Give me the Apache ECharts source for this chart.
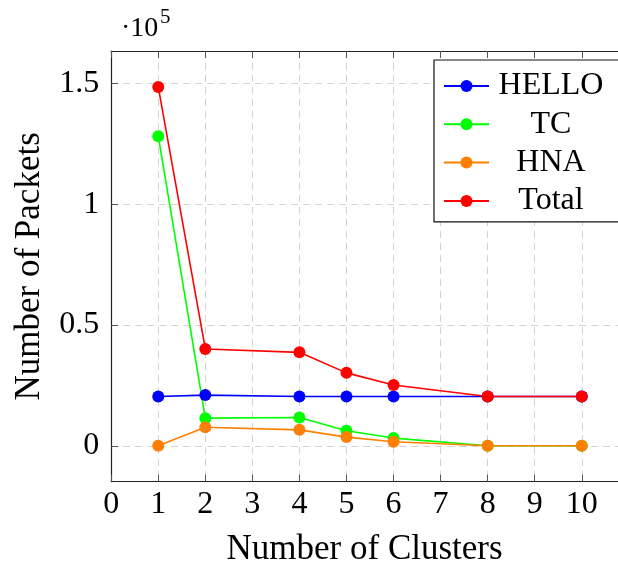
<!DOCTYPE html>
<html>
<head>
<meta charset="utf-8">
<script src="https://cdn.jsdelivr.net/npm/echarts@6/dist/echarts.min.js"></script>
<style>
  html, body { margin: 0; padding: 0; background: #fff; }
  #chart { width: 618px; height: 565px; }
</style>
</head>
<body>
<div id="chart"></div>
<script>
// Packet counts per message type versus number of clusters
const clusters = [1, 2, 4, 5, 6, 8, 10];
const helloPackets = [20400, 21000, 20400, 20400, 20400, 20400, 20400];
const tcPackets = [128200, 11450, 11700, 6200, 3200, 0, 0];
const hnaPackets = [0, 7700, 6600, 3600, 1700, 0, 0];
const totalPackets = [148600, 40100, 38700, 30200, 25200, 20400, 20400];

const xTicks = [0, 1, 2, 3, 4, 5, 6, 7, 8, 9, 10];
const yTicks = [0, 50000, 100000, 150000];
const yScale = 1e5;

const FONT = '"Liberation Serif", "DejaVu Serif", serif';

function pairs(ys) {
  return clusters.map((x, i) => [x, ys[i]]);
}

function lineSeries(name, color, ys) {
  return {
    name: name,
    type: 'line',
    data: pairs(ys),
    symbol: 'circle',
    symbolSize: 12,
    showSymbol: true,
    lineStyle: { color: color, width: 1.6 },
    itemStyle: { color: color },
    emphasis: { disabled: true },
    silent: true
  };
}

const tickStyle = { show: true, inside: true, length: 7, lineStyle: { color: '#555', width: 1 } };

const chart = echarts.init(document.getElementById('chart'), null, { renderer: 'canvas' });
chart.setOption({
  animation: false,
  backgroundColor: '#fff',
  textStyle: { fontFamily: FONT },
  grid: {
    left: 111.2,
    top: 51,
    right: 0,
    height: 430.7,
    containLabel: false,
    outerBoundsMode: 'none'
  },
  xAxis: [
    {
      type: 'value',
      position: 'bottom',
      min: 0,
      max: 10.77,
      name: 'Number of Clusters',
      nameLocation: 'middle',
      nameGap: 50.5,
      nameTextStyle: { fontFamily: FONT, fontSize: 35, color: '#000' },
      axisLine: { show: true, onZero: false, lineStyle: { color: '#222', width: 1.2 } },
      axisTick: Object.assign({ customValues: xTicks }, tickStyle),
      axisLabel: {
        customValues: xTicks,
        margin: 6.5,
        fontFamily: FONT,
        fontSize: 32,
        color: '#000'
      },
      splitLine: { show: true, lineStyle: { color: '#d4d4d4', width: 1, type: [7, 5] } }
    },
    {
      type: 'value',
      position: 'top',
      min: 0,
      max: 10.77,
      axisLine: { show: true, onZero: false, lineStyle: { color: '#222', width: 1.2 } },
      axisTick: Object.assign({ customValues: xTicks }, tickStyle),
      axisLabel: { show: false },
      splitLine: { show: false }
    }
  ],
  yAxis: {
    type: 'value',
    min: -14860,
    max: 163460,
    name: 'Number of Packets',
    nameLocation: 'middle',
    nameRotate: 90,
    nameGap: 64,
    nameTextStyle: { fontFamily: FONT, fontSize: 35, color: '#000' },
    axisLine: { show: true, onZero: false, lineStyle: { color: '#222', width: 1.2 } },
    axisTick: Object.assign({ customValues: yTicks }, tickStyle),
    axisLabel: {
      customValues: yTicks,
      margin: 12,
      fontFamily: FONT,
      fontSize: 32,
      color: '#000',
      formatter: v => String(Math.round(v / yScale * 10) / 10)
    },
    splitLine: { show: true, lineStyle: { color: '#d4d4d4', width: 1, type: [7, 5] } }
  },
  legend: {
    orient: 'vertical',
    left: 434,
    top: 60,
    padding: [10, 12, 5, 9],
    itemGap: 6.3,
    itemWidth: 45,
    itemHeight: 15,
    itemTextGap: 5,
    backgroundColor: '#fff',
    borderColor: '#111',
    borderWidth: 1.2,
    borderRadius: 0,
    selectedMode: false,
    formatter: '{n|{name}}',
    textStyle: {
      fontFamily: FONT,
      fontSize: 32,
      color: '#000',
      rich: { n: { width: 114, align: 'center', fontFamily: FONT, fontSize: 32, lineHeight: 32 } }
    },
    data: ['HELLO', 'TC', 'HNA', 'Total']
  },
  graphic: [
    {
      type: 'text',
      left: 121,
      top: 15,
      style: { text: '\u00b710', font: '28px ' + FONT, fill: '#000' }
    },
    {
      type: 'text',
      left: 160,
      top: 7,
      style: { text: '5', font: '21px ' + FONT, fill: '#000' }
    }
  ],
  series: [
    lineSeries('HELLO', '#0000ff', helloPackets),
    lineSeries('TC', '#00ff00', tcPackets),
    lineSeries('HNA', '#ff8000', hnaPackets),
    lineSeries('Total', '#ff0000', totalPackets)
  ]
});
</script>
</body>
</html>
